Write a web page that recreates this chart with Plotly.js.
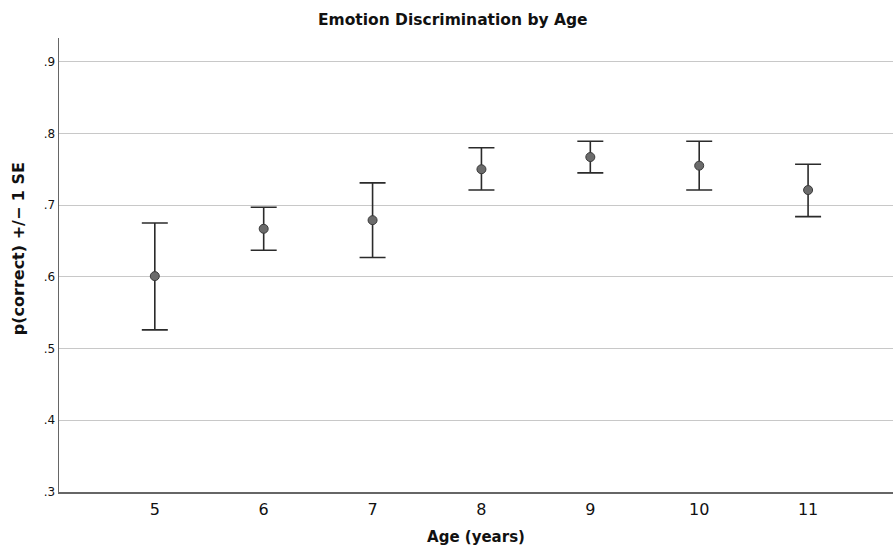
<!DOCTYPE html>
<html>
<head>
<meta charset="utf-8">
<script src="https://cdn.plot.ly/plotly-3.0.1.min.js"></script>
<style>html,body{margin:0;padding:0;background:#fff;}#chart{width:893px;height:554px;}</style>
</head>
<body>
<div id="chart"></div>
<script>
const ages = [5, 6, 7, 8, 9, 10, 11];
const means = [0.601, 0.667, 0.679, 0.750, 0.767, 0.755, 0.721];
const upper = [0.675, 0.697, 0.731, 0.780, 0.789, 0.789, 0.757];
const lower = [0.526, 0.637, 0.627, 0.721, 0.745, 0.721, 0.684];
const yTickVals = [0.3, 0.4, 0.5, 0.6, 0.7, 0.8, 0.9];
const yTickText = ['.3', '.4', '.5', '.6', '.7', '.8', '.9'];

const plus = upper.map((u, i) => u - means[i]);
const minus = means.map((m, i) => m - lower[i]);

const trace = {
  x: ages,
  y: means,
  type: 'scatter',
  mode: 'markers',
  marker: {size: 9, color: '#6b6b6b', line: {color: '#3a3a3a', width: 1}},
  error_y: {type: 'data', symmetric: false, array: plus, arrayminus: minus,
            color: '#2b2b2b', thickness: 1.6, width: 13},
  hoverinfo: 'skip'
};

const layout = {
  width: 893, height: 554,
  margin: {l: 59, r: 0, t: 37.5, b: 62, pad: 0},
  paper_bgcolor: '#fff', plot_bgcolor: '#fff',
  showlegend: false,
  font: {family: 'DejaVu Sans, sans-serif', color: '#111'},
  title: {text: '<b>Emotion Discrimination by Age</b>', font: {size: 15.5, color: '#111'},
          x: 0.507, xanchor: 'center', y: 0.965, yanchor: 'middle'},
  xaxis: {
    range: [4.12, 11.78], tickvals: ages, ticktext: ages.map(String),
    showgrid: false, zeroline: false, showline: true, linecolor: '#666', linewidth: 1.5,
    ticks: '', tickfont: {size: 16, color: '#111'}, ticklabelstandoff: 2,
    title: {text: '<b>Age (years)</b>', font: {size: 15, color: '#111'}, standoff: 14}
  },
  yaxis: {
    range: [0.3, 0.933], tickvals: yTickVals, ticktext: yTickText,
    showgrid: true, gridcolor: '#c8c8c8', gridwidth: 1, zeroline: false,
    showline: true, linecolor: '#666', linewidth: 1.5,
    ticks: '', tickfont: {size: 12, color: '#111'}
  },
  annotations: [{
    text: '<b>p(correct) +/− 1 SE</b>', textangle: -90, showarrow: false,
    xref: 'paper', yref: 'paper', x: -0.049, y: 0.535,
    xanchor: 'center', yanchor: 'middle', font: {size: 16, color: '#111'}
  }]
};

Plotly.newPlot('chart', [trace], layout, {displayModeBar: false, staticPlot: true});
</script>
</body>
</html>
